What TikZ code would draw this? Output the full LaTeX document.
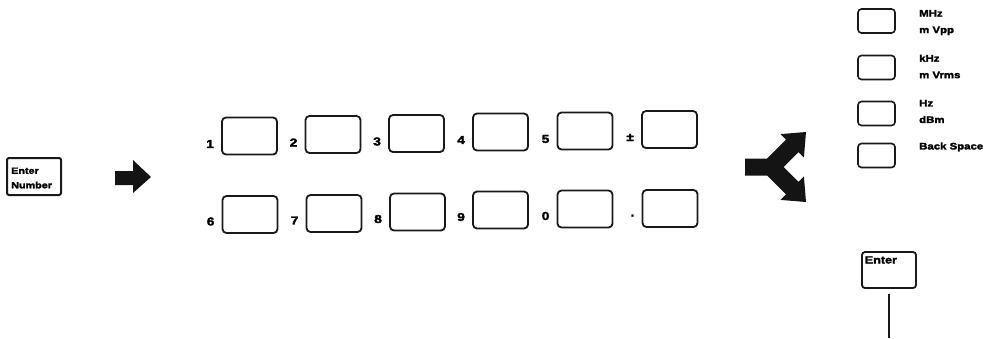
\documentclass[tikz,border=0pt]{standalone}
\usepackage{fontspec}
\newfontfamily\kf[FakeStretch=1.2,FakeBold=2.5]{Liberation Sans}
\begin{document}
\begin{tikzpicture}[x=1pt,y=-1pt,
  keybox/.style={draw=black!90,line width=1.8pt,rounded corners=4pt,minimum width=55pt,minimum height=37pt,inner sep=0pt},
  sidebox/.style={draw=black!90,line width=1.6pt,rounded corners=3.5pt,minimum width=37pt,minimum height=24pt,inner sep=0pt},
  klabel/.style={font=\kf\bfseries\fontsize{11.5}{11.5}\selectfont,inner sep=0pt,anchor=east},
  stext/.style={font=\kf\bfseries\fontsize{9.5}{16.5}\selectfont,align=left,inner sep=0pt,anchor=west},
  solidarrow/.style={fill=black!92,draw=none}]
\useasboundingbox (0,0) rectangle (993,338);
% Enter Number key
\node[draw=black!90,line width=2pt,rounded corners=2pt,minimum width=54pt,minimum height=37pt,inner sep=0pt] (enum) at (34,176.5) {};
\node[font=\kf\bfseries\fontsize{9}{14.5}\selectfont,align=left,inner sep=0pt,anchor=west] (enumt) at (11,178) {Enter\\Number};
% arrow
\fill[solidarrow] (115,171) -- (133,171) -- (133,160) -- (151,177) -- (133,193) -- (133,185) -- (115,185) -- cycle;
% keypad row 1
\foreach \n/\x/\y/\t in {k1/249.5/136/1,k2/333/134.5/2,k3/416.5/133.5/3,k4/500.5/132/4,k5/585/131/5,kpm/669.5/129.5/±}{
  \node[keybox] (\n) at (\x,\y) {};
  \node[klabel] (\n l) at ([xshift=-7pt,yshift=-8pt]\n.west) {\t};
}
% keypad row 2
\foreach \n/\x/\y/\t in {k6/250/214.5/6,k7/334/213.5/7,k8/417.5/212/8,k9/500.5/210/9,k0/585/209/0,kdot/670/208.5/.}{
  \node[keybox] (\n) at (\x,\y) {};
  \node[klabel] (\n l) at ([xshift=-7pt,yshift=-7pt]\n.west) {\t};
}
% branching arrow
\fill[solidarrow] (745,158.5) -- (767,158.5) -- (785.9,139.6) -- (780.4,134.1) -- (806,132) -- (803.9,157.6) -- (798.4,152.1) -- (783.5,167) -- (798.4,181.9) -- (803.9,176.4) -- (806,202) -- (780.4,199.9) -- (785.9,194.4) -- (767,175.5) -- (745,175.5) -- cycle;
% side keys
\node[sidebox] (mhz) at (876.5,21) {};
\node[stext] (mhzt) at (919,22.5) {MHz\\m Vpp};
\node[sidebox] (khz) at (876.5,67.5) {};
\node[stext] (khzt) at (919,66.5) {kHz\\m Vrms};
\node[sidebox] (hz) at (876.5,113.5) {};
\node[stext] (hzt) at (919,111.5) {Hz\\dBm};
\node[sidebox] (bs) at (876.5,155.5) {};
\node[stext] (bst) at (919,147) {Back Space};
% Enter key
\node[draw=black!90,line width=1.8pt,rounded corners=3pt,minimum width=54pt,minimum height=36pt,inner sep=0pt] (enter) at (889,270) {};
\node[font=\kf\bfseries\fontsize{10.5}{11}\selectfont,inner sep=0pt,anchor=north west] (entert) at ([xshift=3.5pt,yshift=-5pt]enter.north west) {Enter};
\coordinate (tail) at (889,338);
\draw[line width=1.6pt,black!90] ([yshift=-5pt]enter.south) -- (tail);
\end{tikzpicture}
\end{document}
